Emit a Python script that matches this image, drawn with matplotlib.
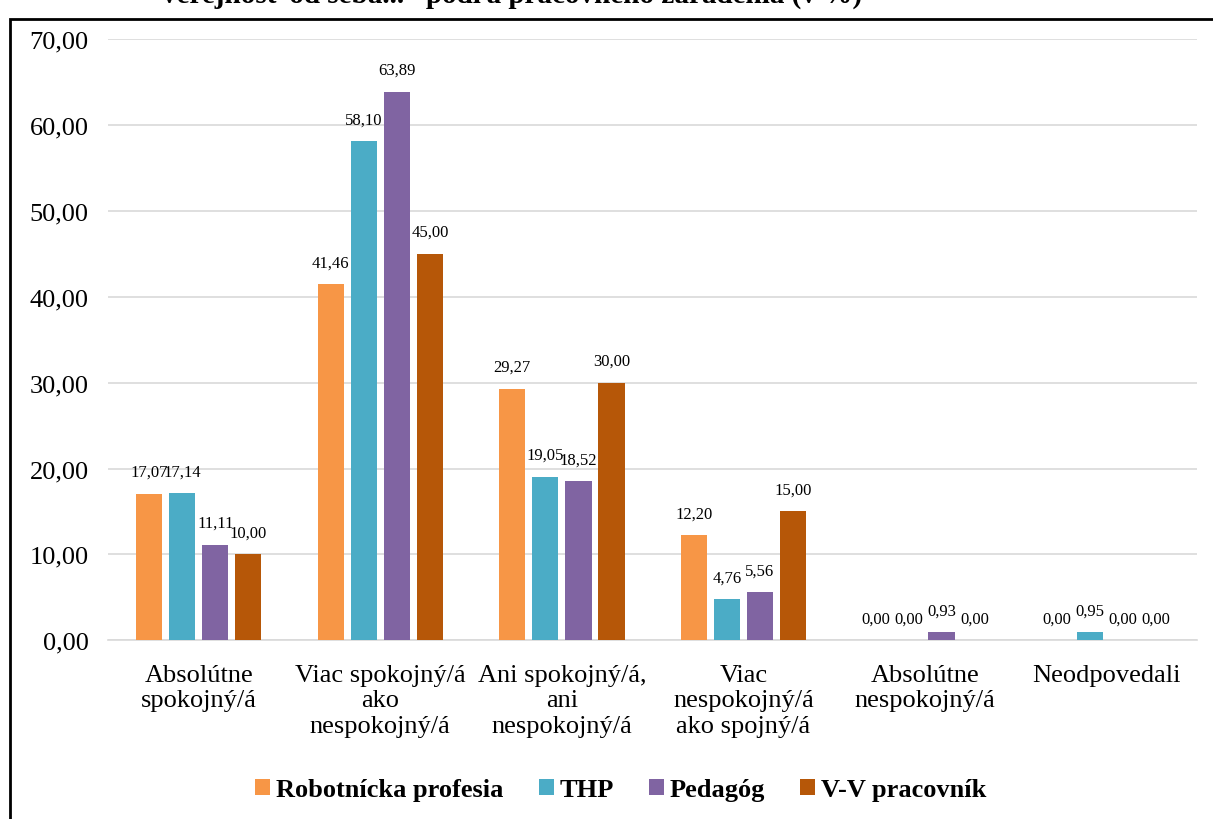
import numpy as np
import matplotlib
matplotlib.use("Agg")
import matplotlib.pyplot as plt
from matplotlib.patches import Rectangle

categories = [
    "Absolútne\nspokojný/á",
    "Viac spokojný/á\nako\nnespokojný/á",
    "Ani spokojný/á,\nani\nnespokojný/á",
    "Viac\nnespokojný/á\nako spojný/á",
    "Absolútne\nnespokojný/á",
    "Neodpovedali",
]
series_names = ["Robotnícka profesia", "THP", "Pedagóg", "V-V pracovník"]
robotnicka = [17.07, 41.46, 29.27, 12.20, 0.00, 0.00]
thp = [17.14, 58.10, 19.05, 4.76, 0.00, 0.95]
pedagog = [11.11, 63.89, 18.52, 5.56, 0.93, 0.00]
vv = [10.00, 45.00, 30.00, 15.00, 0.00, 0.00]
colors = ["#F79646", "#4BACC6", "#8064A2", "#B65708"]

plt.rcParams["font.family"] = ["Liberation Serif", "DejaVu Serif"]

fig = plt.figure(figsize=(12.13, 8.2), dpi=100)
ax = fig.add_axes([0.089, 0.218, 0.898, 0.733])

x = np.arange(len(categories))
width = 0.145
pitch = 0.182
offsets = (np.arange(4) - 1.5) * pitch

for i, vals in enumerate([robotnicka, thp, pedagog, vv]):
    bars = ax.bar(x + offsets[i], vals, width, color=colors[i],
                  label=series_names[i], zorder=3)
    for b, v in zip(bars, vals):
        ax.annotate(f"{v:.2f}".replace(".", ","),
                    (b.get_x() + b.get_width() / 2, v),
                    xytext=(0, 10), textcoords="offset points",
                    ha="center", va="bottom", fontsize=12)

ax.set_xlim(-0.5, len(categories) - 0.5)
ax.set_ylim(0, 70)
ax.set_yticks(np.arange(0, 71, 10))
ax.set_yticklabels([f"{v:.2f}".replace(".", ",") for v in np.arange(0, 71, 10)],
                   fontsize=19)
ax.set_xticks(x)
ax.set_xticklabels(categories, fontsize=19, linespacing=1.2)
ax.tick_params(axis="y", length=0, pad=14)
ax.tick_params(axis="x", length=0, pad=17)
ax.grid(True, axis="y", color="#d9d9d9", linewidth=1.2, zorder=0)
for s in ["top", "right", "left"]:
    ax.spines[s].set_visible(False)
ax.spines["bottom"].set_color("#d9d9d9")
ax.spines["bottom"].set_linewidth(1.2)

ax.legend(loc="center", bbox_to_anchor=(0.471, (1 - 791 / 820 - 0.218) / 0.733),
          ncol=4, frameon=False, prop={"weight": "bold", "size": 19},
          handlelength=0.57, handleheight=0.57, handletextpad=0.22,
          columnspacing=1.33)

fig.patches.append(Rectangle((10 / 1213, -0.1), 1.2, 1.1 - 20 / 820,
                             transform=fig.transFigure, fill=False,
                             edgecolor="black", linewidth=2))
fig.text(0.422, 1 - 3 / 820,
         "verejnosť od seba...“ podľa pracovného zaradenia (v %)",
         ha="center", va="baseline", fontsize=21, fontweight="bold")

fig.savefig("out.png", dpi=100)
